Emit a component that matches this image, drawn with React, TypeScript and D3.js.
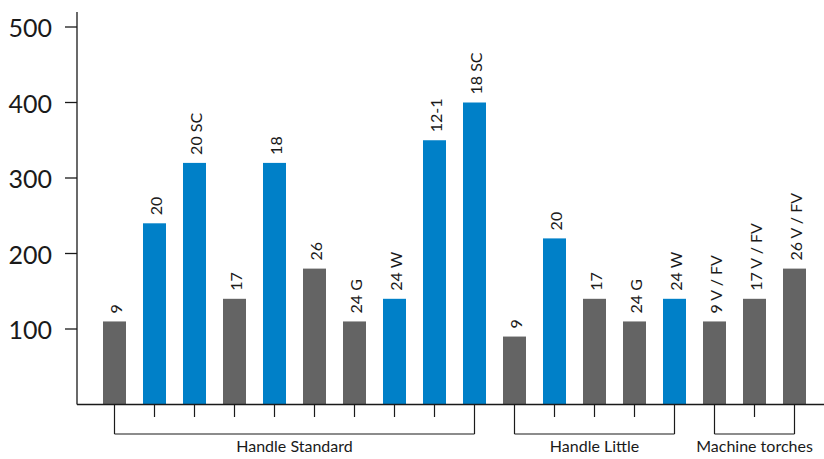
import React from "react";
import * as d3 from "d3";

const categories = [
  "9", "20", "20 SC", "17", "18", "26", "24 G", "24 W", "12-1", "18 SC",
  "9", "20", "17", "24 G", "24 W",
  "9 V / FV", "17 V / FV", "26 V / FV",
];
const values = [110, 240, 320, 140, 320, 180, 110, 140, 350, 400, 90, 220, 140, 110, 140, 110, 140, 180];
const highlighted = [false, true, true, false, true, false, false, true, true, true, false, true, false, false, true, false, false, false];
const groups = ["Handle Standard", "Handle Little", "Machine torches"];
const groupSizes = [10, 5, 3];
const yTicks = [100, 200, 300, 400, 500];

const W = 824;
const H = 459;
const FONT = "Lato, 'Noto Sans', sans-serif";
const GRAY = "#646464";
const BLUE = "#0080c8";
const INK = "#1a1a1a";

export default function App() {
  const axisX = 77;
  const baseY = 404.5;
  const y = d3.scaleLinear().domain([0, 500]).range([baseY, 27]);
  const x = d3
    .scaleBand<number>()
    .domain(d3.range(categories.length))
    .range([94.5, 814.5])
    .paddingInner(0.425)
    .paddingOuter(0.2125);
  const cx = (i: number) => (x(i) as number) + x.bandwidth() / 2;

  const starts: number[] = [];
  let acc = 0;
  groupSizes.forEach((s) => {
    starts.push(acc);
    acc += s;
  });
  const bracketY = 434;

  return (
    <div style={{ position: "absolute", left: 0, top: 0 }}>
      <svg width={W} height={H} style={{ display: "block" }} fontFamily={FONT}>
        {/* bars */}
        {values.map((v, i) => (
          <rect
            key={"b" + i}
            x={x(i)}
            y={y(v)}
            width={x.bandwidth()}
            height={baseY - y(v)}
            fill={highlighted[i] ? BLUE : GRAY}
          />
        ))}
        {/* bar labels */}
        {values.map((v, i) => (
          <text
            key={"l" + i}
            transform={`translate(${cx(i) + 1},${y(v) - 8}) rotate(-90)`}
            dominantBaseline="central"
            fontSize={16}
            fill={INK}
          >
            {categories[i]}
          </text>
        ))}
        {/* y axis */}
        <line x1={axisX} x2={axisX} y1={12} y2={baseY} stroke={INK} strokeWidth={1.3} />
        {yTicks.map((t) => (
          <g key={"t" + t}>
            <line x1={65} x2={axisX} y1={y(t)} y2={y(t)} stroke={INK} strokeWidth={1.3} />
            <text x={52} y={y(t)} textAnchor="end" dominantBaseline="central" fontSize={25} fill={INK}>
              {t}
            </text>
          </g>
        ))}
        {/* x axis baseline */}
        <line x1={axisX} x2={W} y1={baseY} y2={baseY} stroke={INK} strokeWidth={1.3} />
        {/* category ticks and group brackets */}
        {groups.map((g, gi) => {
          const s = starts[gi];
          const e = s + groupSizes[gi] - 1;
          return (
            <g key={"g" + gi}>
              {d3.range(s, e + 1).map((i) => (
                <line
                  key={"ct" + i}
                  x1={cx(i)}
                  x2={cx(i)}
                  y1={baseY}
                  y2={i === s || i === e ? bracketY : 417}
                  stroke={INK}
                  strokeWidth={1.2}
                />
              ))}
              <line x1={cx(s)} x2={cx(e)} y1={bracketY} y2={bracketY} stroke={INK} strokeWidth={1.2} />
              <text
                x={(cx(s) + cx(e)) / 2}
                y={452}
                textAnchor="middle"
                fontSize={16}
                fill={INK}
              >
                {g}
              </text>
            </g>
          );
        })}
      </svg>
    </div>
  );
}
